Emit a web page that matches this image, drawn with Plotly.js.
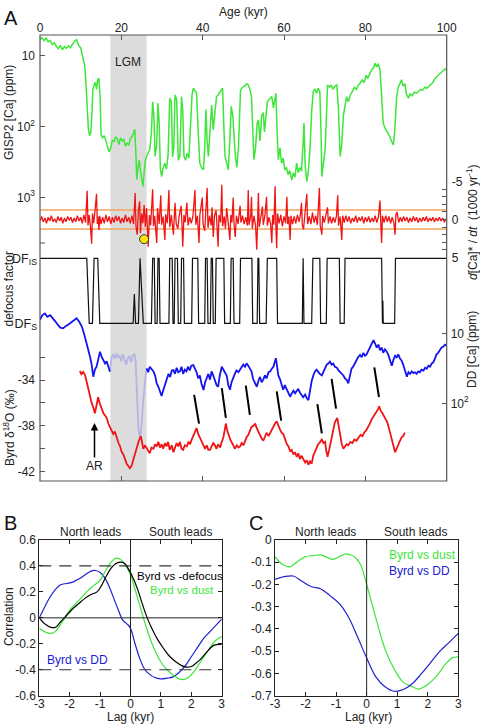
<!DOCTYPE html>
<html><head><meta charset="utf-8">
<script src="https://cdn.plot.ly/plotly-3.0.1.min.js"></script>
<style>html,body{margin:0;padding:0;background:#fff}#chart{width:480px;height:726px}</style>
</head><body><div id="chart"></div>
<script>
// ---------- Panel A data: [age kyr, value] ----------
const gisp = [[0,6.0],[0.5,5.6],[1.0,6.2],[1.5,5.7],[2.0,6.4],[2.5,6.1],[3.0,7.0],[3.5,6.6],[4.0,7.4],[4.5,8.0],[5.0,7.2],[5.5,8.3],[6.0,7.5],[6.5,7.9],[7.0,7.3],[7.5,7.8],[8.0,6.9],[8.5,6.3],[9.0,6.0],[9.5,7.2],[10.0,7.8],[10.5,10.5],[11.0,14],[11.3,25],[11.6,70],[11.9,110],[12.2,135],[12.5,120],[12.8,60],[13.0,30],[13.3,26],[13.6,24],[13.9,30],[14.2,22],[14.5,21],[14.8,40],[15.0,130],[15.4,145],[15.8,135],[16.2,160],[16.6,185],[17.0,230],[17.4,200],[17.8,155],[18.2,165],[18.6,140],[19.0,150],[19.4,180],[19.8,145],[20.2,160],[20.6,150],[21.0,190],[21.4,170],[21.8,185],[22.2,150],[22.6,140],[23.0,125],[23.3,110],[23.6,260],[23.8,560],[24.1,380],[24.4,300],[24.7,420],[25.0,520],[25.3,700],[25.6,450],[25.9,300],[26.2,265],[26.6,240],[27.0,210],[27.4,120],[27.7,45],[28.0,70],[28.3,265],[28.7,180],[29.0,47],[29.3,90],[29.6,400],[29.9,510],[30.3,380],[30.7,330],[31.1,400],[31.5,250],[31.9,40],[32.3,45],[32.6,270],[32.9,200],[33.2,36],[33.6,42],[34.0,300],[34.4,260],[34.8,38],[35.1,60],[35.4,265],[35.8,300],[36.2,240],[36.6,280],[37.0,120],[37.4,35],[37.7,29],[38.1,31],[38.5,34],[38.9,120],[39.3,330],[39.7,380],[40.2,410],[40.5,200],[40.8,58],[41.1,160],[41.4,265],[41.8,120],[42.2,50],[42.6,112],[43.0,60],[43.4,38],[43.8,36],[44.2,33],[44.6,30],[44.9,29],[45.2,100],[45.5,265],[45.9,330],[46.3,410],[46.7,150],[47.0,52],[47.4,70],[47.7,155],[48.0,250],[48.4,380],[48.8,200],[49.3,31],[49.8,28],[50.3,27],[50.8,25],[51.2,26],[51.6,30],[52.0,38],[52.3,150],[52.6,295],[53.0,200],[53.4,90],[53.7,81],[54.1,160],[54.5,70],[54.9,64],[55.2,120],[55.6,60],[55.9,45],[56.3,42],[56.7,40],[57.0,38],[57.4,55],[57.7,40],[58.0,34],[58.3,120],[58.6,295],[59.0,200],[59.4,330],[59.8,280],[60.2,410],[60.6,380],[61.0,480],[61.4,420],[61.9,570],[62.3,450],[62.7,520],[63.1,330],[63.5,450],[63.9,380],[64.3,430],[64.7,172],[64.9,90],[65.2,350],[65.6,600],[66.0,420],[66.4,200],[66.8,60],[67.2,32],[67.6,30],[68.0,34],[68.4,29],[68.8,32],[69.1,120],[69.3,510],[69.7,330],[70.1,215],[70.4,80],[70.7,26],[71.2,28],[71.6,26],[72.0,30],[72.5,27],[73.0,26],[73.4,60],[73.8,265],[74.2,180],[74.6,70],[75.0,52],[75.4,38],[75.8,45],[76.3,36],[76.8,32],[77.3,28],[77.8,30],[78.3,26],[78.7,24.6],[79.2,22],[79.7,24],[80.2,19],[80.6,21],[81.1,17.8],[81.5,16],[82.0,15],[82.4,12.9],[82.8,14.5],[83.2,13],[83.6,16],[84.0,40],[84.4,90],[84.8,105],[85.2,115],[85.6,125],[86.0,140],[86.4,160],[86.9,182],[87.2,120],[87.5,45],[87.7,38],[88.1,28],[88.5,24],[88.9,22],[89.3,27],[89.7,25],[90.1,35],[90.6,40],[91.0,35],[91.5,37],[92.0,33],[92.6,34],[93.1,32],[93.6,30],[94.1,31],[94.6,28],[95.1,29],[95.6,27],[96.1,25],[96.6,24],[97.1,21],[97.6,20],[98.1,18.5],[98.6,17.5],[99.1,16.5],[99.6,15.5],[100,16]];

const deriv = [[0.0,0.2],[0.4,-0.4],[0.8,0.3],[1.2,-0.2],[1.6,0.5],[2.0,-0.3],[2.4,0.2],[2.8,-0.5],[3.2,0.3],[3.6,-0.1],[4.0,0.4],[4.4,-0.4],[4.8,0.2],[5.2,-0.3],[5.6,0.5],[6.0,-0.2],[6.4,0.3],[6.8,-0.4],[7.2,0.1],[7.6,-0.3],[8.0,0.4],[8.4,-0.2],[8.8,0.3],[9.2,-0.5],[9.6,0.2],[10.0,-0.3],[10.4,0.5],[10.8,-0.6],[11.2,0.4],[11.6,-3.8],[11.8,0.8],[12.1,-0.6],[12.4,0.9],[12.7,3.2],[12.9,-0.8],[13.2,0.5],[13.5,-1.0],[13.9,-3.4],[14.1,0.6],[14.3,-0.4],[14.5,1.4],[14.7,-0.5],[15.0,0.6],[15.4,-0.3],[15.8,0.5],[16.2,-0.6],[16.6,0.3],[17.0,-0.4],[17.4,0.6],[17.8,-0.3],[18.2,0.4],[18.6,-0.5],[19.0,0.2],[19.4,-0.4],[19.8,0.5],[20.2,-0.2],[20.6,0.4],[21.0,-0.6],[21.4,0.3],[21.8,-0.3],[22.2,0.5],[22.6,-0.5],[23.0,0.6],[23.4,-3.5],[23.6,0.9],[23.9,2.0],[24.2,-1.2],[24.5,-2.4],[24.7,1.8],[25.0,-0.8],[25.3,0.5],[25.6,-1.9],[25.9,1.0],[26.2,-1.5],[26.6,3.6],[26.9,-0.6],[27.2,0.8],[27.7,-4.0],[27.9,0.9],[28.2,-0.5],[28.7,3.1],[28.9,-1.5],[29.3,0.6],[29.7,-3.2],[29.9,0.7],[30.3,-0.4],[30.7,2.7],[30.9,-0.7],[31.3,0.5],[31.7,-3.9],[31.9,1.0],[32.3,-0.6],[32.8,2.0],[33.0,-0.8],[33.2,-2.2],[33.5,0.6],[33.9,1.2],[34.2,-0.4],[34.7,-1.8],[34.9,0.5],[35.1,3.6],[35.4,-0.6],[35.7,0.4],[36.1,-2.2],[36.4,0.8],[36.8,-0.3],[37.2,0.5],[37.6,-0.4],[38.1,-3.9],[38.3,0.7],[38.7,-0.5],[39.1,3.1],[39.3,-0.6],[39.9,-2.9],[40.1,0.6],[40.5,1.5],[40.8,-0.7],[41.1,-4.2],[41.3,1.1],[41.7,-0.5],[42.1,0.8],[42.3,-1.6],[42.6,2.3],[42.9,-0.5],[43.3,-1.2],[43.8,3.6],[44.0,-0.6],[44.4,0.4],[44.7,-4.6],[44.9,0.9],[45.3,-0.4],[45.6,1.2],[45.9,-1.5],[46.2,0.5],[46.7,2.7],[46.9,-0.6],[47.2,0.4],[47.5,-2.9],[47.7,0.5],[48.0,2.3],[48.3,-0.5],[48.7,0.6],[49.2,-1.8],[49.4,0.4],[49.8,-0.5],[50.2,0.6],[50.6,-0.3],[51.0,0.8],[51.2,-3.9],[51.4,0.7],[51.8,-0.4],[52.0,-3.0],[52.2,1.2],[52.6,-0.5],[53.0,0.8],[53.3,4.0],[53.5,-0.6],[53.7,-3.5],[53.9,1.0],[54.3,-0.4],[54.7,-1.7],[54.9,0.7],[55.3,-0.5],[55.7,-3.0],[55.9,0.8],[56.3,-0.3],[56.7,0.6],[57.0,3.1],[57.2,-0.6],[57.5,0.7],[57.8,-4.4],[58.0,0.9],[58.2,3.8],[58.4,-0.8],[58.8,0.5],[59.2,-0.6],[59.6,0.9],[60.0,-0.4],[60.4,0.5],[60.7,-3.0],[60.9,0.6],[61.2,-0.4],[61.5,2.7],[61.7,-0.5],[62.1,0.6],[62.5,-0.4],[62.9,0.5],[63.3,-0.6],[63.7,0.3],[64.0,-0.5],[64.3,-2.2],[64.5,0.7],[64.8,1.3],[65.1,-0.5],[65.6,-3.4],[65.8,0.6],[66.2,-0.4],[66.6,0.6],[67.0,-0.9],[67.4,0.4],[67.8,-0.5],[68.2,0.7],[68.7,-4.2],[68.9,0.8],[69.3,2.0],[69.5,-0.5],[69.9,0.4],[70.3,-0.6],[70.7,-1.6],[70.9,0.5],[71.3,-0.4],[71.7,0.5],[72.1,-0.3],[72.5,0.4],[72.9,-0.5],[73.2,-3.2],[73.4,0.8],[73.8,-0.4],[74.2,2.7],[74.4,-0.5],[74.8,0.4],[75.2,-0.5],[75.6,0.3],[76.0,-0.4],[76.4,0.5],[76.8,-0.2],[77.2,0.3],[77.6,-0.5],[78.0,0.4],[78.4,-0.3],[78.8,0.2],[79.2,-0.4],[79.6,0.5],[80.0,-0.3],[80.4,0.3],[80.8,-0.4],[81.2,0.4],[81.6,-0.2],[82.0,0.3],[82.4,-0.5],[82.8,0.4],[83.2,-0.3],[83.6,-2.5],[83.8,0.7],[84.0,3.1],[84.2,-0.5],[84.6,0.4],[85.0,-0.5],[85.4,0.3],[85.8,-0.4],[86.2,0.5],[86.6,-0.3],[87.0,0.4],[87.3,2.0],[87.5,-0.6],[87.8,-1.0],[88.2,0.4],[88.6,-0.3],[89.0,0.3],[89.4,-0.4],[89.8,0.2],[90.2,-0.3],[90.6,0.4],[91.0,-0.2],[91.4,0.3],[91.8,-0.4],[92.2,0.2],[92.6,-0.3],[93.0,0.4],[93.4,-0.2],[93.8,0.3],[94.2,-0.3],[94.6,0.2],[95.0,-0.4],[95.4,0.3],[95.8,-0.2],[96.2,0.2],[96.6,-0.3],[97.0,0.3],[97.4,-0.2],[97.8,0.2],[98.2,-0.3],[98.6,0.2],[99.0,-0.2],[99.4,0.3],[100.0,-0.1]];

const defocus = [[0,1],[11.5,1],[12.1,0],[12.9,0],[13.3,1],[14.2,1],[14.7,0],[22.9,0],[23.2,0.45],[23.5,0],[24.2,0],[24.6,1],[25.4,0],[27.4,0],[27.7,1],[28.1,1],[28.3,0],[28.8,0],[29.0,1],[29.3,1],[29.5,0],[31.7,0],[31.9,1],[32.5,1],[32.7,0],[33.0,0],[33.2,1],[33.8,1],[34.0,0],[34.6,0],[34.8,1],[35.3,1],[35.5,0],[37.3,0],[37.5,1],[38.8,1],[39.0,0],[40.5,0],[40.7,1],[41.1,1],[41.3,0],[41.9,0],[42.1,1],[42.4,1],[42.6,0],[43.1,0],[43.3,1],[45.2,1],[45.4,0],[46.8,0],[47.0,1],[47.5,1],[47.7,0],[49.1,0],[49.3,1],[52.1,1],[52.3,0],[53.4,0],[53.6,1],[53.8,1],[54.0,0],[55.6,0],[55.9,1],[58.2,1],[58.4,0],[64.5,0],[64.7,1],[64.9,0],[66.8,0],[67.1,1],[68.8,1],[69.0,0],[70.4,0],[70.6,1],[73.6,1],[73.8,0],[74.8,0],[75.0,1],[84.0,1],[84.2,0],[84.3,0.35],[84.4,0],[87.2,0],[87.4,1],[100,1]];

const ddCa = [[0,6.4],[0.6,5.5],[1.2,5.2],[1.8,5.8],[2.5,5.5],[3.2,6.3],[3.8,6.8],[4.4,7.6],[5.0,8.3],[5.7,8.5],[6.3,7.9],[7.0,7.5],[7.6,7.0],[8.2,6.5],[9.0,6.1],[9.6,6.8],[10.3,8.0],[10.9,10.5],[11.5,13.9],[11.9,17],[12.3,21.6],[12.7,28],[13.1,41.7],[13.5,33],[13.9,30],[14.3,24],[14.75,18.3],[15.2,22],[15.6,24],[16.0,27],[16.4,25],[16.8,30],[17.2,35.3],[null,null],[26.2,31.7],[26.6,36],[27.0,30],[27.5,33],[27.9,35],[28.3,40],[28.7,52],[29.1,58],[29.5,70],[29.9,78.6],[30.3,65],[30.7,55],[31.2,46.3],[31.6,38],[32.0,42],[32.4,34],[32.8,33.5],[33.2,38],[33.6,31],[34.0,36],[34.4,35],[34.8,30],[35.2,38],[35.6,33],[36.0,35],[36.4,30],[36.8,34],[37.2,29],[37.7,28.4],[38.1,32],[38.5,36],[38.9,44],[39.3,40],[39.7,52],[40.2,64.5],[40.6,50],[41.0,42],[41.4,38],[41.8,46],[42.2,35],[42.6,40],[43.0,47],[43.4,55],[43.8,58],[44.2,40],[44.7,30],[45.1,33],[45.5,38],[45.9,40],[46.3,55],[46.7,64],[47.1,50],[47.5,42],[47.9,38],[48.3,34],[48.8,36],[49.2,33],[49.6,30],[50.0,28],[50.4,30],[50.8,26.8],[51.2,29],[51.6,32],[52.0,35],[52.4,45],[52.8,50],[53.3,58],[53.7,48],[54.1,42],[54.5,50],[54.9,46],[55.3,40],[55.7,44],[56.2,36],[56.6,35],[57.0,32],[57.4,30],[57.7,26],[58.0,22.7],[58.3,30],[58.6,40],[59.0,45],[59.4,52],[59.8,64],[60.2,55],[60.6,62],[61.0,70],[61.5,80.6],[61.9,72],[62.3,66],[62.7,72],[63.1,68],[63.5,62],[63.9,70],[64.3,75],[64.7,82],[65.2,75],[65.6,85],[66.0,89.8],[66.4,60],[66.8,48],[67.2,40],[67.6,35],[68.0,33],[68.4,36],[68.8,38],[69.3,40],[69.7,35],[70.1,30],[70.5,28],[70.9,27],[71.3,25.4],[71.7,28],[72.1,27],[72.5,30],[73.0,31],[73.4,34],[73.8,36],[74.2,38],[74.6,40],[75.0,44],[75.4,46],[75.8,52],[76.2,40],[76.6,32],[77.0,30],[77.4,27],[77.8,25],[78.2,22],[78.7,20.4],[79.1,22],[79.5,19],[79.9,21],[80.3,20],[80.7,18],[81.1,16],[81.5,14.5],[82.0,12.5],[82.4,14],[82.8,16],[83.2,14.5],[83.6,17.5],[84.0,16],[84.4,19],[84.8,17],[85.2,18],[85.6,20],[86.1,24],[86.5,29],[86.9,24],[87.3,21],[87.7,22],[88.1,20],[88.5,23],[88.9,24.5],[89.3,28],[89.7,35],[90.2,41.7],[90.6,36],[91.0,38],[91.4,35],[91.8,37],[92.2,36],[92.6,38],[93.0,35],[93.4,36],[93.8,33],[94.3,34],[94.7,31],[95.1,32],[95.5,29],[95.9,30],[96.3,27],[96.7,26],[97.1,23],[97.5,20],[97.9,19],[98.3,17.5],[98.7,16],[99.2,15.5],[99.6,14.5],[100,15]];

const ddCaLgm = [[17.2,35.3],[17.6,22],[18.0,20],[18.4,23],[18.8,19.5],[19.2,22],[19.6,21],[20.0,25],[20.4,20],[20.8,24],[21.2,28],[21.6,23],[22.0,21],[22.4,26],[22.8,21],[23.2,19.5],[23.5,24],[23.9,90],[24.2,230],[24.5,300],[24.8,270],[25.1,150],[25.4,90],[25.8,50],[26.2,31.7]];

const byrd = [[9.8,-33.2],[10.2,-33.5],[10.6,-33.3],[11.1,-33.6],[11.5,-34.2],[11.9,-34.9],[12.3,-35.4],[12.7,-36.0],[13.1,-36.4],[13.5,-36.9],[13.9,-36.2],[14.3,-35.5],[14.75,-36.1],[15.2,-36.6],[15.6,-36.9],[16.0,-37.1],[16.4,-37.3],[16.8,-37.8],[17.2,-38.1],[17.6,-38.5],[18.0,-38.7],[18.4,-38.5],[18.9,-39.1],[19.3,-39.5],[19.7,-39.8],[20.1,-40.3],[20.5,-40.5],[20.9,-41.0],[21.3,-41.3],[21.7,-41.5],[22.1,-41.7],[22.5,-41.5],[22.9,-41.0],[23.3,-40.5],[23.8,-39.9],[24.3,-39.3],[24.8,-38.9],[25.1,-39.6],[25.4,-40.0],[25.8,-39.7],[26.2,-39.9],[26.6,-40.1],[27.0,-40.4],[27.4,-39.9],[27.9,-40.0],[28.3,-39.6],[28.7,-39.8],[29.1,-39.4],[29.5,-39.9],[29.9,-39.6],[30.3,-40.0],[30.7,-39.5],[31.1,-39.8],[31.5,-39.4],[31.9,-40.1],[32.4,-39.7],[32.8,-40.3],[33.2,-39.9],[33.6,-39.5],[34.0,-39.8],[34.4,-39.4],[34.8,-40.0],[35.2,-40.1],[35.6,-39.7],[36.1,-39.8],[36.5,-39.4],[36.9,-39.6],[37.3,-39.2],[37.7,-38.9],[38.1,-38.6],[38.5,-38.2],[38.9,-38.7],[39.3,-39.0],[39.7,-39.3],[40.2,-39.7],[40.6,-40.0],[41.0,-39.7],[41.4,-40.1],[41.8,-40.1],[42.2,-39.8],[42.6,-39.5],[43.0,-39.7],[43.4,-40.0],[43.8,-39.6],[44.3,-39.9],[44.7,-39.4],[45.1,-39.0],[45.5,-38.2],[45.7,-37.8],[46.1,-38.5],[46.5,-39.0],[46.9,-39.3],[47.4,-39.6],[47.9,-40.0],[48.4,-39.7],[48.8,-39.9],[49.2,-39.8],[49.6,-39.5],[50.0,-39.7],[50.4,-39.3],[50.8,-39.0],[51.2,-38.8],[51.6,-38.5],[52.0,-38.1],[52.5,-38.0],[52.9,-37.8],[53.3,-38.2],[53.7,-38.5],[54.1,-38.9],[54.5,-39.1],[54.9,-39.3],[55.3,-38.9],[55.7,-38.6],[56.2,-38.9],[56.6,-38.6],[57.0,-38.3],[57.4,-38.0],[57.8,-37.8],[58.2,-37.6],[58.6,-38.0],[59.0,-38.3],[59.4,-38.6],[59.8,-38.7],[60.3,-39.2],[60.7,-39.6],[61.1,-39.8],[61.5,-40.2],[61.9,-40.1],[62.3,-40.5],[62.7,-40.3],[63.1,-40.7],[63.5,-40.4],[63.9,-40.9],[64.3,-40.6],[64.7,-40.9],[65.2,-41.2],[65.6,-41.0],[66.0,-41.4],[66.4,-41.1],[66.8,-41.3],[67.2,-40.6],[67.6,-40.3],[68.0,-39.9],[68.4,-39.6],[68.9,-39.4],[69.3,-39.2],[69.7,-39.5],[70.1,-39.4],[70.4,-40.2],[70.7,-40.7],[71.1,-40.1],[71.7,-39.1],[72.1,-38.4],[72.5,-37.7],[73.1,-37.3],[73.4,-38.0],[73.8,-39.0],[74.2,-39.6],[74.6,-40.0],[75.0,-39.8],[75.4,-39.6],[75.8,-39.7],[76.3,-39.4],[76.8,-39.5],[77.3,-39.2],[77.8,-39.3],[78.3,-39.0],[78.8,-38.8],[79.3,-38.9],[79.7,-38.6],[80.2,-38.4],[80.7,-38.1],[81.1,-37.8],[81.6,-37.4],[82.0,-37.2],[82.4,-36.9],[82.8,-36.7],[83.2,-36.5],[83.4,-36.3],[83.8,-36.7],[84.2,-36.9],[84.6,-37.2],[85.0,-37.4],[85.4,-37.7],[85.8,-38.2],[86.2,-38.7],[86.6,-39.2],[87.0,-39.8],[87.3,-40.3],[87.7,-40.0],[88.1,-39.6],[88.5,-39.3],[88.9,-39.0],[89.3,-38.9],[89.7,-38.6]];

// tie lines (start and end of each), age / d18O
const ties = [[37.9,-35.3],[39.1,-37.8],[null,null],[44.7,-34.7],[45.7,-37.3],[null,null],[50.6,-34.5],[51.6,-37.05],[null,null],[58.2,-35.0],[59.3,-37.55],[null,null],[68.2,-36.1],[69.3,-38.65],[null,null],[71.7,-33.9],[72.8,-36.5],[null,null],[82.2,-32.9],[83.35,-35.5]];
const yellowDot = [[25.6,2.6]];
const orangeBand = [-1.25, 1.25];
const lgmSpan = [17.3, 26.2];

// ---------- Panel B / C data ----------
const bDefocus = [[-3.0,0.0],[-2.8,-0.05],[-2.6,-0.075],[-2.45,-0.07],[-2.3,-0.03],[-2.1,0.02],[-1.9,0.07],[-1.7,0.11],[-1.5,0.15],[-1.3,0.18],[-1.1,0.2],[-0.95,0.25],[-0.8,0.32],[-0.65,0.38],[-0.5,0.415],[-0.35,0.43],[-0.2,0.42],[-0.05,0.37],[0.1,0.3],[0.25,0.21],[0.4,0.1],[0.55,0.0],[0.7,-0.08],[0.9,-0.17],[1.1,-0.24],[1.3,-0.3],[1.5,-0.34],[1.7,-0.37],[1.85,-0.38],[2.0,-0.375],[2.15,-0.35],[2.3,-0.32],[2.45,-0.28],[2.6,-0.24],[2.75,-0.21],[3.0,-0.205]];
const bDust = [[-3.0,-0.08],[-2.8,-0.11],[-2.6,-0.12],[-2.45,-0.1],[-2.3,-0.05],[-2.15,0.0],[-2.0,0.06],[-1.8,0.11],[-1.6,0.16],[-1.4,0.21],[-1.2,0.25],[-1.0,0.29],[-0.85,0.35],[-0.7,0.41],[-0.55,0.45],[-0.45,0.46],[-0.3,0.445],[-0.15,0.4],[0.0,0.33],[0.15,0.22],[0.3,0.1],[0.45,-0.02],[0.6,-0.13],[0.8,-0.25],[1.0,-0.34],[1.2,-0.4],[1.4,-0.44],[1.6,-0.47],[1.75,-0.475],[1.9,-0.46],[2.1,-0.41],[2.3,-0.34],[2.5,-0.27],[2.7,-0.2],[2.85,-0.165],[3.0,-0.145]];
const bDD = [[-3.0,0.0],[-2.85,0.07],[-2.7,0.14],[-2.5,0.21],[-2.3,0.255],[-2.1,0.265],[-1.9,0.275],[-1.7,0.3],[-1.5,0.33],[-1.3,0.36],[-1.15,0.365],[-1.0,0.35],[-0.85,0.31],[-0.7,0.24],[-0.55,0.15],[-0.4,0.06],[-0.25,-0.02],[-0.1,-0.05],[0.0,-0.08],[0.15,-0.2],[0.3,-0.31],[0.45,-0.39],[0.6,-0.43],[0.8,-0.46],[1.0,-0.47],[1.2,-0.465],[1.4,-0.455],[1.6,-0.42],[1.8,-0.37],[2.0,-0.3],[2.2,-0.23],[2.4,-0.16],[2.6,-0.11],[2.8,-0.06],[3.0,-0.01]];
const cDust = [[-3.0,-0.075],[-2.75,-0.11],[-2.5,-0.12],[-2.25,-0.095],[-2.0,-0.075],[-1.75,-0.07],[-1.5,-0.067],[-1.3,-0.078],[-1.1,-0.087],[-0.9,-0.075],[-0.7,-0.063],[-0.55,-0.066],[-0.4,-0.075],[-0.2,-0.11],[0.0,-0.2],[0.2,-0.3],[0.4,-0.4],[0.6,-0.49],[0.9,-0.58],[1.2,-0.64],[1.5,-0.66],[1.7,-0.67],[2.0,-0.65],[2.3,-0.61],[2.6,-0.555],[2.8,-0.53],[3.0,-0.525]];
const cDD = [[-3.0,-0.177],[-2.7,-0.165],[-2.4,-0.162],[-2.1,-0.187],[-1.8,-0.21],[-1.5,-0.22],[-1.2,-0.25],[-0.9,-0.285],[-0.6,-0.345],[-0.3,-0.435],[0.0,-0.53],[0.3,-0.615],[0.6,-0.66],[0.9,-0.68],[1.2,-0.672],[1.5,-0.645],[1.8,-0.6],[2.1,-0.55],[2.4,-0.5],[2.7,-0.46],[3.0,-0.42]];
const bThreshold = [-0.4, 0.4];

// ---------- build ----------
const X = a => a.map(p => p[0]);
const Y = a => a.map(p => p[1]);
const GREEN = '#3ee63a', RED = '#f01414', BLUE = '#1414ee', LBLUE = '#b4b4e6', CBLUE = '#2020d0';
const FONT = 'Liberation Sans, Arial, Helvetica, sans-serif';
const ln = (c, w, s) => (s ? {color: c, width: w, shape: s} : {color: c, width: w});

const traces = [
  {x: X(gisp), y: Y(gisp), xaxis: 'x', yaxis: 'y', mode: 'lines', line: ln(GREEN, 1.5)},
  {x: X(deriv), y: Y(deriv), xaxis: 'x', yaxis: 'y2', mode: 'lines', line: ln(RED, 1.3)},
  {x: X(yellowDot), y: Y(yellowDot), xaxis: 'x', yaxis: 'y2', mode: 'markers', marker: {color: '#ffe600', size: 9, line: {color: '#333', width: 1}}},
  {x: X(defocus), y: Y(defocus), xaxis: 'x', yaxis: 'y3', mode: 'lines', line: ln('#111', 1.2)},
  {x: X(ddCaLgm), y: Y(ddCaLgm), xaxis: 'x', yaxis: 'y4', mode: 'lines', line: ln(LBLUE, 1.8)},
  {x: X(ddCa), y: Y(ddCa), xaxis: 'x', yaxis: 'y4', mode: 'lines', line: ln(BLUE, 1.8), connectgaps: false},
  {x: X(byrd), y: Y(byrd), xaxis: 'x2', yaxis: 'y5', mode: 'lines', line: ln(RED, 1.8)},
  {x: X(ties), y: Y(ties), xaxis: 'x2', yaxis: 'y5', mode: 'lines', line: ln('#000', 2), connectgaps: false},
  {x: X(bDD), y: Y(bDD), xaxis: 'x3', yaxis: 'y6', mode: 'lines', line: ln(CBLUE, 1.2, 'spline')},
  {x: X(bDust), y: Y(bDust), xaxis: 'x3', yaxis: 'y6', mode: 'lines', line: ln(GREEN, 1.2, 'spline')},
  {x: X(bDefocus), y: Y(bDefocus), xaxis: 'x3', yaxis: 'y6', mode: 'lines', line: ln('#000', 1.2, 'spline')},
  {x: X(cDust), y: Y(cDust), xaxis: 'x4', yaxis: 'y7', mode: 'lines', line: ln(GREEN, 1.2, 'spline')},
  {x: X(cDD), y: Y(cDD), xaxis: 'x4', yaxis: 'y7', mode: 'lines', line: ln(CBLUE, 1.2, 'spline')}
];

const fy = px => 1 - px / 726;   // paper y from pixel
const fx = px => px / 480;       // paper x from pixel
const AX = '#555';
const noGrid = {showgrid: false, zeroline: false};
const tf = {size: 12, color: '#222'};
const tfb = {size: 12, color: '#222'};
const minorIn = d => ({dtick: d, ticks: 'inside', ticklen: 5, tickcolor: AX, showgrid: false});

const layout = {
  width: 480, height: 726, margin: {l: 0, r: 0, t: 0, b: 0},
  paper_bgcolor: '#fff', plot_bgcolor: 'rgba(0,0,0,0)', showlegend: false,
  font: {family: FONT, size: 12, color: '#222'},
  xaxis: Object.assign({domain: [fx(40), fx(446.7)], range: [0, 100], anchor: 'y', side: 'top', ticks: 'inside', ticklen: 5, tickcolor: AX, tickvals: [0, 20, 40, 60, 80, 100], showline: false, tickfont: tf}, noGrid),
  xaxis2: Object.assign({domain: [fx(40), fx(446.7)], range: [0, 100], anchor: 'y5', side: 'bottom', ticks: 'inside', ticklen: 5, tickcolor: AX, tickvals: [20, 40, 60, 80], showticklabels: false, showline: false}, noGrid),
  yaxis: Object.assign({domain: [fy(250), fy(35)], type: 'log', range: [3.7433, 0.7109], anchor: 'x', side: 'left', ticks: 'inside', ticklen: 5, tickcolor: AX,
    tickvals: [10, 100, 1000], ticktext: ['10', '10<sup>2</sup>', '10<sup>3</sup>'], tickfont: tf, ticklabelstandoff: 4}, noGrid),
  yaxis2: Object.assign({domain: [fy(257.3), fy(181.7)], range: [5, -5], anchor: 'x', side: 'right', ticks: 'inside', ticklen: 5, tickcolor: AX,
    tickvals: [-5, 0, 5], ticktext: ['-5', '0', '5'], minor: Object.assign({tick0: 0}, minorIn(1)), tickfont: tf, ticklabelstandoff: 4}, noGrid),
  yaxis3: Object.assign({domain: [fy(330), fy(250)], range: [-0.1031, 1.1277], anchor: 'x', side: 'left', ticks: '',
    tickvals: [1, 0], ticktext: ['DF<sub>IS</sub>', 'DF<sub>S</sub>'], tickfont: {size: 12.5, color: '#222'}, ticklabelstandoff: 2}, noGrid),
  yaxis4: Object.assign({domain: [fy(445), fy(300)], type: 'log', range: [2.5957, 0.5243], anchor: 'x', side: 'right', ticks: 'inside', ticklen: 5, tickcolor: AX,
    tickvals: [10, 100], ticktext: ['10', '10<sup>2</sup>'], tickfont: tf, ticklabelstandoff: 3}, noGrid),
  yaxis5: Object.assign({domain: [fy(481), fy(340)], range: [-42.813, -30.51], anchor: 'x2', side: 'left', ticks: 'inside', ticklen: 5, tickcolor: AX,
    tickvals: [-34, -38, -42], ticktext: ['-34', '-38', '-42'], minor: Object.assign({tick0: -32}, minorIn(2)), tickfont: tf, ticklabelstandoff: 4}, noGrid),
  xaxis3: Object.assign({domain: [fx(39.3), fx(221.7)], range: [-3, 3], anchor: 'y6', ticks: 'inside', ticklen: 4, tickcolor: '#222', showline: true, linecolor: '#222', linewidth: 1, mirror: 'ticks',
    tickvals: [-3, -2, -1, 0, 1, 2, 3], ticktext: ['-3', '-2', '-1', '0', '1', '2', '3'], tickfont: tfb, ticklabelstandoff: -3}, noGrid),
  yaxis6: Object.assign({domain: [fy(695.7), fy(540)], range: [-0.6, 0.6], anchor: 'x3', ticks: 'inside', ticklen: 4, tickcolor: '#222', showline: true, linecolor: '#222', linewidth: 1, mirror: 'ticks',
    tickvals: [-0.6, -0.4, -0.2, 0, 0.2, 0.4, 0.6], ticktext: ['-0.6', '-0.4', '-0.2', '0', '0.2', '0.4', '0.6'], tickfont: tfb}, noGrid),
  xaxis4: Object.assign({domain: [fx(275), fx(458.3)], range: [-3, 3], anchor: 'y7', ticks: 'inside', ticklen: 4, tickcolor: '#222', showline: true, linecolor: '#222', linewidth: 1, mirror: 'ticks',
    tickvals: [-3, -2, -1, 0, 1, 2, 3], ticktext: ['-3', '-2', '-1', '0', '1', '2', '3'], tickfont: tfb, ticklabelstandoff: -3}, noGrid),
  yaxis7: Object.assign({domain: [fy(695.7), fy(540)], range: [-0.7, 0], anchor: 'x4', ticks: 'inside', ticklen: 4, tickcolor: '#222', showline: true, linecolor: '#222', linewidth: 1, mirror: 'ticks',
    tickvals: [0, -0.1, -0.2, -0.3, -0.4, -0.5, -0.6, -0.7], ticktext: ['0', '-0.1', '-0.2', '-0.3', '-0.4', '-0.5', '-0.6', '-0.7'], tickfont: tfb}, noGrid),
  shapes: [
    {type: 'rect', layer: 'below', xref: 'x', yref: 'paper', x0: lgmSpan[0], x1: lgmSpan[1], y0: fy(481), y1: fy(35), fillcolor: '#dcdcdc', line: {width: 0}},
    {type: 'line', layer: 'below', xref: 'x', yref: 'y2', x0: 0, x1: 100, y0: orangeBand[0], y1: orangeBand[0], line: {color: '#f4a460', width: 1.5}},
    {type: 'line', layer: 'below', xref: 'x', yref: 'y2', x0: 0, x1: 100, y0: orangeBand[1], y1: orangeBand[1], line: {color: '#f4a460', width: 1.5}},
    {type: 'rect', layer: 'above', xref: 'paper', yref: 'paper', x0: fx(40), x1: fx(446.7), y0: fy(481), y1: fy(35), line: {color: AX, width: 1.2}},
    {type: 'line', layer: 'above', xref: 'paper', yref: 'paper', x0: fx(40), x1: fx(45), y0: fy(243), y1: fy(243), line: {color: AX, width: 1}},
    // panel B reference lines
    {type: 'line', xref: 'x3', yref: 'y6', x0: -3, x1: 3, y0: 0, y1: 0, line: {color: '#222', width: 1}},
    {type: 'line', xref: 'x3', yref: 'y6', x0: 0, x1: 0, y0: -0.6, y1: 0.6, line: {color: '#222', width: 1}},
    {type: 'line', xref: 'x3', yref: 'y6', x0: -3, x1: 3, y0: bThreshold[0], y1: bThreshold[0], line: {color: '#333', width: 1.2, dash: '12px,8px'}},
    {type: 'line', xref: 'x3', yref: 'y6', x0: -3, x1: 3, y0: bThreshold[1], y1: bThreshold[1], line: {color: '#333', width: 1.2, dash: '12px,8px'}},
    // panel C
    {type: 'line', xref: 'x4', yref: 'y7', x0: 0, x1: 0, y0: -0.7, y1: 0, line: {color: '#222', width: 1}}
  ],
  annotations: [
    {text: 'A', xref: 'paper', yref: 'paper', x: fx(2), y: fy(5), xanchor: 'left', yanchor: 'top', showarrow: false, font: {size: 20, color: '#111'}},
    {text: 'Age (kyr)', xref: 'paper', yref: 'paper', x: fx(243), y: fy(12), xanchor: 'center', yanchor: 'middle', showarrow: false, font: {size: 12}},
    {text: 'LGM', xref: 'x', yref: 'paper', x: 21.75, y: fy(62), xanchor: 'center', yanchor: 'middle', showarrow: false, font: {size: 12}},
    {text: 'GISP2 [Ca] (ppm)', xref: 'paper', yref: 'paper', x: fx(9), y: fy(113), textangle: -90, xanchor: 'center', yanchor: 'middle', showarrow: false, font: {size: 12}},
    {text: 'defocus factor', xref: 'paper', yref: 'paper', x: fx(8.5), y: fy(289), textangle: -90, xanchor: 'center', yanchor: 'middle', showarrow: false, font: {size: 12}},
    {text: 'Byrd δ<sup>18</sup>O (‰)', xref: 'paper', yref: 'paper', x: fx(9), y: fy(428), textangle: -90, xanchor: 'center', yanchor: 'middle', showarrow: false, font: {size: 12}},
    {text: '<i>d</i>[Ca]* / <i>dt</i>  (1000 yr<sup>-1</sup>)', xref: 'paper', yref: 'paper', x: fx(472), y: fy(222), textangle: -90, xanchor: 'center', yanchor: 'middle', showarrow: false, font: {size: 12}},
    {text: 'DD [Ca] (ppm)', xref: 'paper', yref: 'paper', x: fx(472), y: fy(350), textangle: -90, xanchor: 'center', yanchor: 'middle', showarrow: false, font: {size: 12}},
    {text: 'AR', xref: 'x2', yref: 'y5', x: 13.4, y: -37.75, ax: 0, ay: 43, showarrow: true, arrowhead: 2, arrowsize: 1, arrowwidth: 1.5, arrowcolor: '#000', font: {size: 12}},
    // panel B
    {text: 'B', xref: 'paper', yref: 'paper', x: fx(2), y: fy(510), xanchor: 'left', yanchor: 'top', showarrow: false, font: {size: 20, color: '#111'}},
    {text: 'North leads', xref: 'paper', yref: 'paper', x: fx(90), y: fy(532), xanchor: 'center', yanchor: 'middle', showarrow: false, font: {size: 12}},
    {text: 'South leads', xref: 'paper', yref: 'paper', x: fx(180), y: fy(532), xanchor: 'center', yanchor: 'middle', showarrow: false, font: {size: 12}},
    {text: 'Byrd vs -defocus', xref: 'paper', yref: 'paper', x: fx(135), y: fy(576), xanchor: 'left', yanchor: 'middle', showarrow: false, font: {size: 11.5, color: '#000'}},
    {text: 'Byrd vs dust', xref: 'paper', yref: 'paper', x: fx(148), y: fy(590), xanchor: 'left', yanchor: 'middle', showarrow: false, font: {size: 11.5, color: GREEN}},
    {text: 'Byrd vs DD', xref: 'paper', yref: 'paper', x: fx(45), y: fy(660), xanchor: 'left', yanchor: 'middle', showarrow: false, font: {size: 12, color: CBLUE}},
    {text: 'Correlation', xref: 'paper', yref: 'paper', x: fx(9), y: fy(617), textangle: -90, xanchor: 'center', yanchor: 'middle', showarrow: false, font: {size: 12}},
    {text: 'Lag (kyr)', xref: 'paper', yref: 'paper', x: fx(130), y: 0, xanchor: 'center', yanchor: 'bottom', showarrow: false, font: {size: 12}},
    // panel C
    {text: 'C', xref: 'paper', yref: 'paper', x: fx(247), y: fy(510), xanchor: 'left', yanchor: 'top', showarrow: false, font: {size: 20, color: '#111'}},
    {text: 'North leads', xref: 'paper', yref: 'paper', x: fx(325), y: fy(532), xanchor: 'center', yanchor: 'middle', showarrow: false, font: {size: 12}},
    {text: 'South leads', xref: 'paper', yref: 'paper', x: fx(415), y: fy(532), xanchor: 'center', yanchor: 'middle', showarrow: false, font: {size: 12}},
    {text: 'Byrd vs dust', xref: 'paper', yref: 'paper', x: fx(387), y: fy(555), xanchor: 'left', yanchor: 'middle', showarrow: false, font: {size: 12, color: GREEN}},
    {text: 'Byrd vs DD', xref: 'paper', yref: 'paper', x: fx(387), y: fy(571), xanchor: 'left', yanchor: 'middle', showarrow: false, font: {size: 12, color: CBLUE}},
    {text: 'Lag (kyr)', xref: 'paper', yref: 'paper', x: fx(368), y: 0, xanchor: 'center', yanchor: 'bottom', showarrow: false, font: {size: 12}}
  ]
};

Plotly.newPlot('chart', traces, layout, {staticPlot: true, displayModeBar: false});
</script></body></html>
